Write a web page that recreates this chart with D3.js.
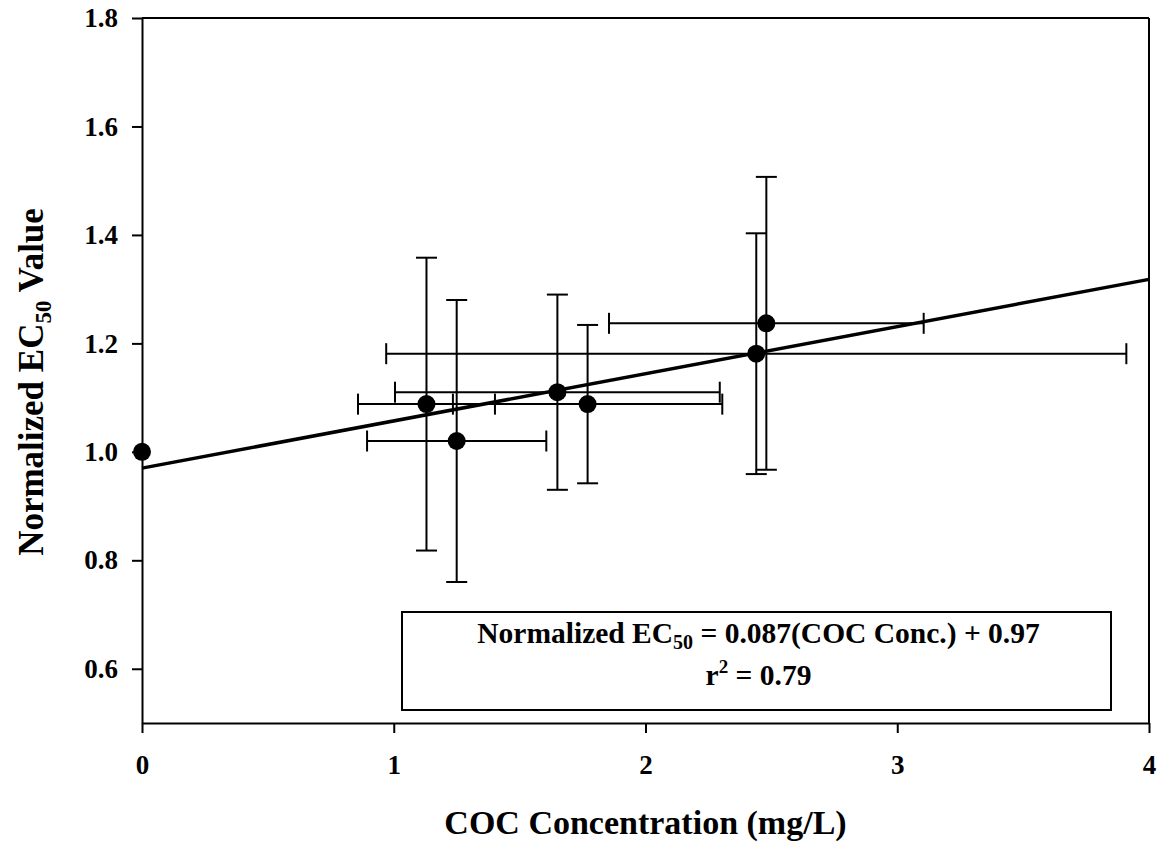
<!DOCTYPE html>
<html lang="en">
<head>
<meta charset="UTF-8">
<title>Normalized EC50 vs COC Concentration</title>
<style>
    body { margin: 0; background: #fff; }
    text { font-family: "Liberation Serif", "Times New Roman", serif; font-weight: bold; fill: #000; }
    .axis path, .axis line { stroke: #000; stroke-width: 2px; }
    .axis text { font-size: 27px; }
    .err { stroke: #000; stroke-width: 2px; fill: none; }
    .fit { stroke: #000; stroke-width: 3.5px; fill: none; }
</style>
</head>
<body>
<script src="https://d3js.org/d3.v7.min.js"></script>
<script>
    // data
    var cocConc = [0, 1.13, 1.25, 1.65, 1.77, 2.44, 2.48];
    var ec50    = [1.00, 1.088, 1.02, 1.11, 1.088, 1.181, 1.237];
    var xErr    = [0, 0.272, 0.356, 0.645, 0.535, 1.47, 0.625];
    var yErr    = [0, 0.27, 0.26, 0.18, 0.146, 0.222, 0.27];
    var xTicks  = [0, 1, 2, 3, 4];
    var yTicks  = [0.6, 0.8, 1.0, 1.2, 1.4, 1.6, 1.8];
    var slope = 0.087, intercept = 0.97;

    var data = cocConc.map(function(c, i) {
        return {x: c, y: ec50[i], ex: xErr[i], ey: yErr[i]};
    });

    var W = 1162, H = 848;
    var margin = {top: 18, right: 13, bottom: 125, left: 142};
    var width = W - margin.left - margin.right,
        height = H - margin.top - margin.bottom;

    var x = d3.scaleLinear().domain([0, 4]).range([0, width]);
    var y = d3.scaleLinear().domain([0.5, 1.8]).range([height, 0]);

    var svg = d3.select("body").append("svg")
        .attr("width", W).attr("height", H)
        .append("g")
        .attr("transform", "translate(" + margin.left + "," + margin.top + ")");

    // frame (top and right)
    svg.append("line").attr("class", "err")
        .attr("x1", x(0)).attr("x2", x(4)).attr("y1", y(1.8)).attr("y2", y(1.8));
    svg.append("line").attr("class", "err")
        .attr("x1", x(4)).attr("x2", x(4)).attr("y1", y(1.8)).attr("y2", y(0.5));

    // axes
    svg.append("g").attr("class", "axis")
        .attr("transform", "translate(0," + height + ")")
        .call(d3.axisBottom(x).tickValues(xTicks).tickSize(10).tickSizeOuter(0).tickPadding(22)
            .tickFormat(d3.format("d")));

    svg.append("g").attr("class", "axis")
        .call(d3.axisLeft(y).tickValues(yTicks).tickSize(10).tickSizeOuter(0).tickPadding(14)
            .tickFormat(d3.format(".1f")));

    // error bars
    var cap = 10.5;
    var eb = svg.append("g");
    data.filter(function(d) { return d.ey > 0; }).forEach(function(d) {
        eb.append("line").attr("class", "err")
            .attr("x1", x(d.x)).attr("x2", x(d.x))
            .attr("y1", y(d.y - d.ey)).attr("y2", y(d.y + d.ey));
        [d.y - d.ey, d.y + d.ey].forEach(function(v) {
            eb.append("line").attr("class", "err")
                .attr("x1", x(d.x) - cap).attr("x2", x(d.x) + cap)
                .attr("y1", y(v)).attr("y2", y(v));
        });
    });
    data.filter(function(d) { return d.ex > 0; }).forEach(function(d) {
        eb.append("line").attr("class", "err")
            .attr("x1", x(d.x - d.ex)).attr("x2", x(d.x + d.ex))
            .attr("y1", y(d.y)).attr("y2", y(d.y));
        [d.x - d.ex, d.x + d.ex].forEach(function(v) {
            eb.append("line").attr("class", "err")
                .attr("x1", x(v)).attr("x2", x(v))
                .attr("y1", y(d.y) - cap).attr("y2", y(d.y) + cap);
        });
    });

    // regression line
    var fitLine = d3.line()
        .x(function(d) { return x(d); })
        .y(function(d) { return y(slope * d + intercept); });
    svg.append("path").datum([0, 4]).attr("class", "fit").attr("d", fitLine);

    // points
    svg.selectAll("circle.pt").data(data).enter().append("circle")
        .attr("class", "pt")
        .attr("cx", function(d) { return x(d.x); })
        .attr("cy", function(d) { return y(d.y); })
        .attr("r", 9)
        .attr("fill", "#000");

    // equation box
    var bx = 402 - margin.left, by = 612 - margin.top, bw = 709, bh = 98;
    svg.append("rect")
        .attr("x", bx).attr("y", by).attr("width", bw).attr("height", bh)
        .attr("fill", "#fff").attr("stroke", "#000").attr("stroke-width", 2);

    var eq = svg.append("text")
        .attr("x", bx + bw / 2 + 2).attr("y", 643 - margin.top)
        .attr("text-anchor", "middle").style("font-size", "29.5px");
    eq.append("tspan").text("Normalized EC");
    eq.append("tspan").text("50").style("font-size", "20px").attr("dy", 6);
    eq.append("tspan").text(" = 0.087(COC Conc.) + 0.97").attr("dy", -6);

    var r2 = svg.append("text")
        .attr("x", bx + bw / 2 + 2).attr("y", 685 - margin.top)
        .attr("text-anchor", "middle").style("font-size", "29.5px");
    r2.append("tspan").text("r");
    r2.append("tspan").text("2").style("font-size", "19px").attr("dy", -12);
    r2.append("tspan").text(" = 0.79").attr("dy", 12);

    // axis titles
    svg.append("text")
        .attr("x", width / 2).attr("y", 834 - margin.top)
        .attr("text-anchor", "middle").style("font-size", "34px")
        .text("COC Concentration (mg/L)");

    var yt = svg.append("text")
        .attr("transform", "translate(" + (43 - margin.left) + "," + (382 - margin.top) + ") rotate(-90)")
        .attr("text-anchor", "middle").style("font-size", "35px");
    yt.append("tspan").text("Normalized EC");
    yt.append("tspan").text("50").style("font-size", "23px").attr("dy", 8);
    yt.append("tspan").text(" Value").attr("dy", -8);
</script>
</body>
</html>
